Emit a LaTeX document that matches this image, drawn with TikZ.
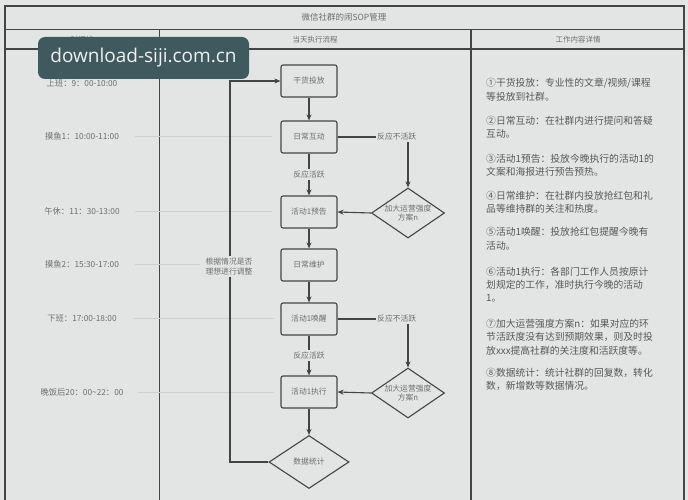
\documentclass[tikz,border=0pt]{standalone}
\usepackage{fontspec}
\setmainfont{Noto Sans CJK SC}
\newfontfamily\wmfont{Open Sans}
\usetikzlibrary{arrows.meta,shapes.geometric}
\definecolor{bg}{HTML}{E3E5E5}
\definecolor{ln}{HTML}{444444}
\definecolor{tx}{HTML}{6E6E6E}
\definecolor{tx2}{HTML}{585858}
\definecolor{faint}{HTML}{CDD1D3}
\definecolor{wmbg}{HTML}{3F5A5E}
\tikzset{
  frame/.style={draw=ln, line width=1.1pt},
  stepbox/.style={draw=ln, line width=1.1pt, rounded corners=2pt, fill=bg, minimum width=56pt, minimum height=32pt, inner sep=0pt, font=\fontsize{7.8}{9}\selectfont, text=tx},
  dia/.style={draw=ln, line width=1.1pt, shape=diamond, fill=bg, inner sep=0pt},
  dtext/.style={font=\fontsize{7.8}{9.5}\selectfont, text=tx, align=center, inner sep=0pt},
  arr/.style={draw=ln, line width=1.1pt, -{Stealth[length=6pt,width=5pt]}},
  lbl/.style={fill=bg, font=\fontsize{7.8}{9}\selectfont, text=tx, inner sep=1.5pt},
  timelbl/.style={font=\fontsize{8.3}{9}\selectfont, text=tx},
  head/.style={font=\fontsize{7.5}{9}\selectfont, text=tx},
  pl/.style={anchor=west, inner sep=0pt, font=\fontsize{9.8}{12}\selectfont, text=tx2},
  faintline/.style={draw=faint, line width=0.7pt}
}
\begin{document}
\begin{tikzpicture}[x=1pt,y=-1pt]
\fill[bg] (0,0) rectangle (688,500);
\useasboundingbox (0,0) rectangle (688,500);
% frame
\draw[frame] (5,500) -- (5,6) -- (684,6) -- (684,500);
\draw[frame] (5,29.5) -- (684,29.5);
\draw[frame] (5,49) -- (684,49);
\draw[frame] (159.5,29.5) -- (159.5,500);
\draw[frame] (471,29.5) -- (471,500);
\node[head, font=\fontsize{8.5}{10}\selectfont] (title) at (344,17.5) {微信社群的闹SOP管理};
\node[head] (h1) at (82,39.5) {时间线};
\node[head] (h2) at (315,39.5) {当天执行流程};
\node[head] (h3) at (578,39.5) {工作内容详情};
% faint guide lines
\draw[faintline] (135,136.5) -- (272,136.5);
\draw[faintline] (135,211.5) -- (272,211.5);
\draw[faintline] (135,264.5) -- (200,264.5);
\draw[faintline] (133,318) -- (274,318);
\draw[faintline] (138,392) -- (274,392);
% time labels
\node[timelbl] (t1) at (82,83) {上班：9：00-10:00};
\node[timelbl] (t2) at (82,136.5) {摸鱼1：10:00-11:00};
\node[timelbl] (t3) at (82,211) {午休：11：30-13:00};
\node[timelbl] (t4) at (82,264.5) {摸鱼2：15:30-17:00};
\node[timelbl] (t5) at (82,318) {下班：17:00-18:00};
\node[timelbl] (t6) at (82,392) {晚饭后20：00\string~22：00};
% flow
\node[stepbox] (b1) at (309,81) {干货投放};
\node[stepbox] (b2) at (309,137) {日常互动};
\node[stepbox] (b3) at (309,212) {活动1预告};
\node[stepbox] (b4) at (309,265) {日常维护};
\node[stepbox] (b5) at (309,319) {活动1唤醒};
\node[stepbox] (b6) at (309,392) {活动1执行};
\node[dia, minimum width=73pt, minimum height=50pt] (d1) at (408,213) {};
\node[dtext] (d1t) at (d1) {加大运营强度\\方案n};
\node[dia, minimum width=73pt, minimum height=50pt] (d2) at (408,393) {};
\node[dtext] (d2t) at (d2) {加大运营强度\\方案n};
\node[dia, minimum width=80pt, minimum height=53pt] (d3) at (309,462) {};
\node[dtext] (d3t) at (d3) {数据统计};
\draw[arr] (b1) -- (b2);
\draw[arr] (b2) -- node[lbl] (l1) {反应活跃} (b3);
\draw[arr] (b2.east) -| node[lbl, pos=0.42] (l2) {反应不活跃} (d1.north);
\draw[arr] (d1.west) -- (b3.east);
\draw[arr] (b3) -- (b4);
\draw[arr] (b4) -- (b5);
\draw[arr] (b5) -- node[lbl] (l3) {反应活跃} (b6);
\draw[arr] (b5.east) -| node[lbl, pos=0.42] (l4) {反应不活跃} (d2.north);
\draw[arr] (d2.west) -- (b6.east);
\draw[arr] (b6) -- (d3);
\coordinate (lp) at (230,462);
\draw[arr] (d3.west) -- (lp) |- (b1.west);
\node[lbl, align=center, font=\fontsize{7.8}{10.5}\selectfont] (l5) at (229,266.5) {根据情况是否\\理想进行调整};
% details
\node[pl] (p1a) at (486,83) {①干货投放：专业性的文章/视频/课程};
\node[pl] (p1b) at (486,96.5) {等投放到社群。};
\node[pl] (p2a) at (486,120.5) {②日常互动：在社群内进行提问和答疑};
\node[pl] (p2b) at (486,134) {互动。};
\node[pl] (p3a) at (486,158.5) {③活动1预告：投放今晚执行的活动1的};
\node[pl] (p3b) at (486,172) {文案和海报进行预告预热。};
\node[pl] (p4a) at (486,195.5) {④日常维护：在社群内投放抢红包和礼};
\node[pl] (p4b) at (486,209) {品等维持群的关注和热度。};
\node[pl] (p5a) at (486,232) {⑤活动1唤醒：投放抢红包提醒今晚有};
\node[pl] (p5b) at (486,245.5) {活动。};
\node[pl] (p6a) at (486,271.5) {⑥活动1执行：各部门工作人员按原计};
\node[pl] (p6b) at (486,285) {划规定的工作，准时执行今晚的活动};
\node[pl] (p6c) at (486,298.5) {1。};
\node[pl] (p7a) at (486,323.5) {⑦加大运营强度方案n：如果对应的环};
\node[pl] (p7b) at (486,337) {节活跃度没有达到预期效果，则及时投};
\node[pl] (p7c) at (486,350.5) {放xxx提高社群的关注度和活跃度等。};
\node[pl] (p8a) at (486,372.5) {⑧数据统计：统计社群的回复数，转化};
\node[pl] (p8b) at (486,386) {数，新增数等数据情况。};
% watermark
\node[fill=wmbg, rounded corners=7pt, minimum width=211pt, minimum height=42pt, inner sep=0pt, text=white!94!black, font=\wmfont\fontsize{19}{22}\selectfont] (wm) at (143.5,58) {download-siji.com.cn};
\end{tikzpicture}
\end{document}
